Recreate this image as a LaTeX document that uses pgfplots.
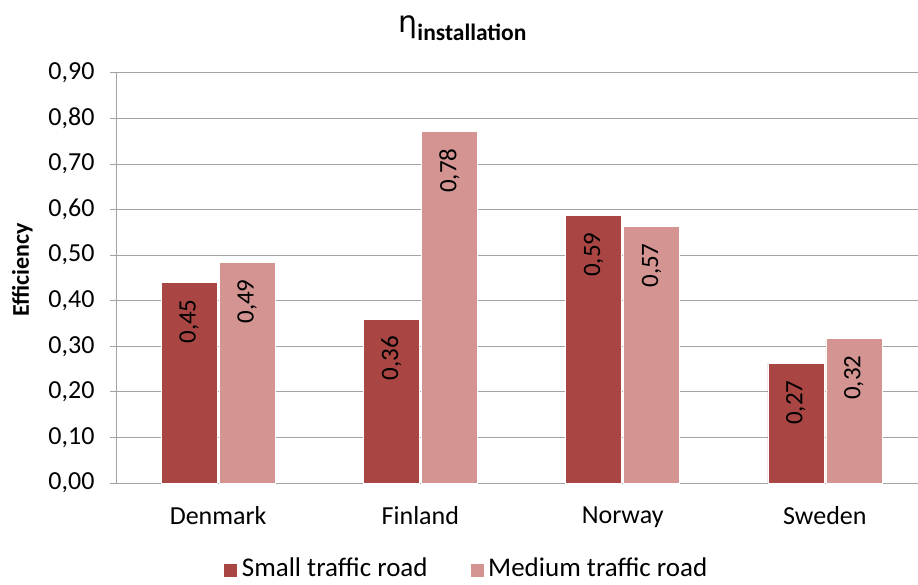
\documentclass[border=0pt]{standalone}
\usepackage{fontspec}
\setmainfont{Carlito}
\newfontfamily\greekfont{DejaVu Sans}
\usepackage{pgfplots}
\pgfplotsset{compat=1.18}
\usepackage{pgfplotstable}

\definecolor{smallc}{HTML}{A94643}
\definecolor{medc}{HTML}{D39492}
\definecolor{gridc}{HTML}{A3A3A3}

\pgfplotstableread{
x y lbl
0 0.441 0,45
1 0.360 0,36
2 0.588 0,59
3 0.263 0,27
}\smalldata
\pgfplotstableread{
x y lbl
0 0.485 0,49
1 0.772 0,78
2 0.564 0,57
3 0.318 0,32
}\meddata

\begin{document}
\begin{tikzpicture}
\path[use as bounding box] (-117bp,-102bp) rectangle (801bp,483bp);
\begin{axis}[
  at={(0bp,0bp)}, anchor=south west,
  scale only axis,
  width=809bp, height=410bp,
  xmin=-0.5, xmax=3.5, ymin=0, ymax=0.9,
  ytick={0,0.1,0.2,0.3,0.4,0.5,0.6,0.7,0.8,0.9},
  xtick={0,1,2,3},
  xticklabels={Denmark,Finland,Norway,Sweden},
  axis x line*=bottom, axis y line*=left,
  axis line style={gridc, line width=1bp},
  ymajorgrids, grid style={gridc, line width=1bp},
  tick align=outside,
  major tick length=7bp,
  ytick style={gridc, line width=1bp},
  xtick style={draw=none},
  yticklabel style={xshift=-12bp, /pgf/number format/.cd, use comma, fixed, fixed zerofill, precision=2, assume math mode=true},
  ticklabel style={font=\fontsize{26bp}{30bp}\selectfont},
  xticklabel style={yshift=-13bp},
  every axis y label/.style={at={(rel axis cs:-0.117,0.52)}, rotate=90, anchor=center, font=\fontsize{24bp}{28bp}\selectfont\bfseries},
  ylabel={Efficiency},
  ybar=2bp, bar width=56bp,
  nodes near coords,
  point meta=explicit symbolic,
  every node near coord/.append style={rotate=90, anchor=east, inner sep=17bp, font=\fontsize{25bp}{29bp}\selectfont, text=black},
  legend style={at={(0.433,-0.207)}, anchor=center, draw=none, legend columns=2,
    font=\fontsize{27bp}{32bp}\selectfont,
    nodes={inner xsep=4bp, inner ysep=1bp},
    /tikz/column 2/.style={column sep=38bp}},
  legend image code/.code={\fill[#1] (0bp,-9bp) rectangle (14bp,5bp);},
  clip=false,
]
\addplot[fill=smallc, draw=white, line width=0.6bp] table[x=x, y=y, meta=lbl] {\smalldata};
\addplot[fill=medc, draw=white, line width=0.6bp] table[x=x, y=y, meta=lbl] {\meddata};
\legend{Small traffic road, Medium traffic road}
\node[anchor=center] at (rel axis cs:0.427,1.11) {{\greekfont\fontsize{30bp}{34bp}\selectfont η}\raisebox{-8bp}{\fontsize{23.5bp}{27bp}\selectfont\bfseries installation}};
\end{axis}
\end{tikzpicture}
\end{document}
